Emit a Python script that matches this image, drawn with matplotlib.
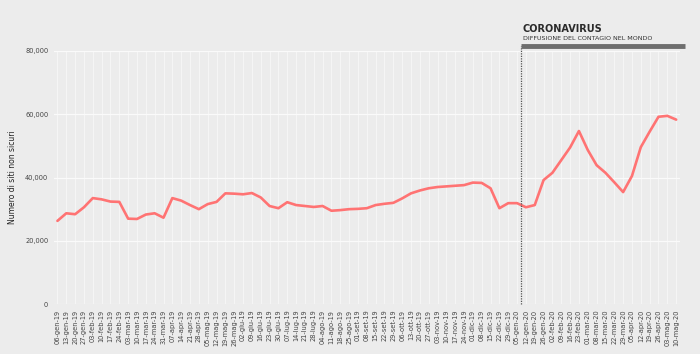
import numpy as np
import matplotlib
matplotlib.use("Agg")
import matplotlib.pyplot as plt

# etichette settimanali (asse x)
settimane = [
    "06-gen-19", "13-gen-19", "20-gen-19", "27-gen-19", "03-feb-19", "10-feb-19", "17-feb-19", "24-feb-19",
    "03-mar-19", "10-mar-19", "17-mar-19", "24-mar-19", "31-mar-19", "07-apr-19", "14-apr-19", "21-apr-19",
    "28-apr-19", "05-mag-19", "12-mag-19", "19-mag-19", "26-mag-19", "02-giu-19", "09-giu-19", "16-giu-19",
    "23-giu-19", "30-giu-19", "07-lug-19", "14-lug-19", "21-lug-19", "28-lug-19", "04-ago-19", "11-ago-19",
    "18-ago-19", "25-ago-19", "01-set-19", "08-set-19", "15-set-19", "22-set-19", "29-set-19", "06-ott-19",
    "13-ott-19", "20-ott-19", "27-ott-19", "03-nov-19", "10-nov-19", "17-nov-19", "24-nov-19", "01-dic-19",
    "08-dic-19", "15-dic-19", "22-dic-19", "29-dic-19", "05-gen-20", "12-gen-20", "19-gen-20", "26-gen-20",
    "02-feb-20", "09-feb-20", "16-feb-20", "23-feb-20", "01-mar-20", "08-mar-20", "15-mar-20", "22-mar-20",
    "29-mar-20", "05-apr-20", "12-apr-20", "19-apr-20", "26-apr-20", "03-mag-20", "10-mag-20",
]

# numero di siti non sicuri
siti = [
    26300, 28700, 28400, 30600, 33500, 33100, 32400, 32300, 27000, 26900,
    28300, 28700, 27300, 33500, 32700, 31300, 30000, 31600, 32300, 35000,
    34900, 34700, 35100, 33700, 31000, 30300, 32200, 31300, 31000, 30700,
    31000, 29500, 29700, 30000, 30100, 30300, 31300, 31700, 32000, 33400,
    35000, 35900, 36600, 37000, 37200, 37400, 37600, 38400, 38300, 36600,
    30300, 31900, 31900, 30600, 31300, 39200, 41500, 45500, 49500, 54700,
    48700, 43900, 41500, 38500, 35400, 40500, 49600, 54500, 59200, 59500,
    58300,
]

y_ticks = [0, 20000, 40000, 60000, 80000]
y_tick_labels = ["0", "20,000", "40,000", "60,000", "80,000"]

inizio_covid = 52.45   # posizione della linea tratteggiata
fine_barra = 71.0

bg = "#ececec"
fig = plt.figure(figsize=(7, 3.54), dpi=100, facecolor=bg)
ax = fig.add_axes([0.077, 0.141, 0.894, 0.715])
ax.set_facecolor(bg)

x = np.arange(len(siti))
ax.plot(x, siti, color="#ff7373", lw=1.9, solid_joinstyle="round", solid_capstyle="round", zorder=3)

ax.set_xlim(-0.4, 70.4)
ax.set_ylim(0, 80000)
ax.set_xticks(x)
ax.set_xticklabels(settimane, rotation=90, fontsize=4.8, color="#444444")
ax.set_yticks(y_ticks)
ax.set_yticklabels(y_tick_labels, fontsize=4.8, color="#444444")
ax.tick_params(length=0, pad=4)
ax.grid(True, axis="y", color="#fafafa", lw=0.9)
ax.grid(True, axis="x", color="#f7f7f7", lw=0.6)
ax.set_axisbelow(True)
for s in ax.spines.values():
    s.set_visible(False)
ax.set_ylabel("Numero di siti non sicuri", fontsize=5.5, labelpad=6, color="#222222")

# linea e barra coronavirus
ax.plot([inizio_covid, inizio_covid], [0, 81500], color="#555555", lw=0.9, ls=(0, (1, 1)),
        clip_on=False, zorder=4)
ax.plot([inizio_covid, fine_barra], [81500, 81500], color="#6e6e6e", lw=3.5, solid_capstyle="butt",
        clip_on=False, zorder=4)
ax.text(inizio_covid + 0.2, 85300, "CORONAVIRUS", fontsize=7, fontweight="bold", color="#2a2a2a",
        va="bottom", ha="left")
ax.text(inizio_covid + 0.2, 83000, "DIFFUSIONE DEL CONTAGIO NEL MONDO", fontsize=4.6, color="#333333",
        va="bottom", ha="left")

plt.savefig("out.png", dpi=100, facecolor=bg)
